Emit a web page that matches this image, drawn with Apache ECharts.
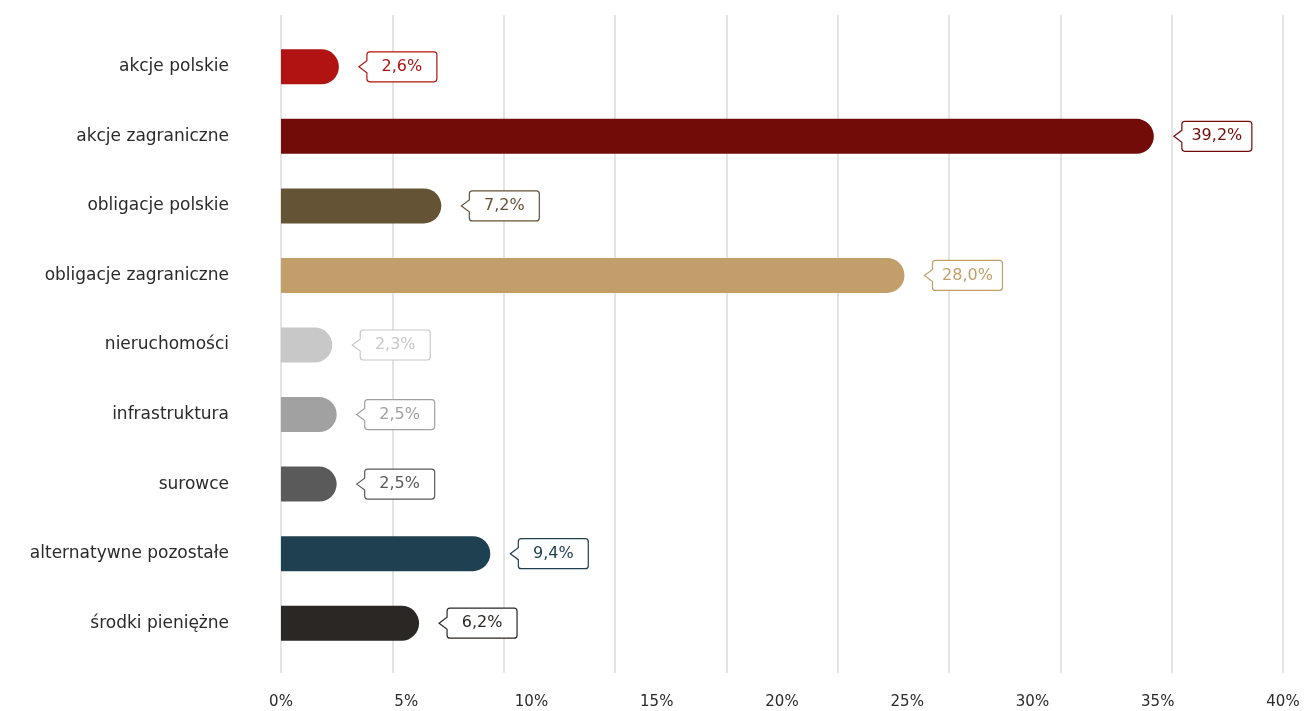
<!DOCTYPE html>
<html>
<head>
<meta charset="utf-8">
<style>
  html, body { margin: 0; padding: 0; background: #fff; }
  #chart { width: 1305px; height: 711px; }
</style>
<script src="https://cdn.jsdelivr.net/npm/echarts@6/dist/echarts.min.js"></script>
</head>
<body>
<div id="chart"></div>
<script>
const categories = [
  'akcje polskie',
  'akcje zagraniczne',
  'obligacje polskie',
  'obligacje zagraniczne',
  'nieruchomości',
  'infrastruktura',
  'surowce',
  'alternatywne pozostałe',
  'środki pieniężne'
]

// udział w portfelu (%)
const shares = [2.6, 39.2, 7.2, 28.0, 2.3, 2.5, 2.5, 9.4, 6.2]

// etykiety osi (0..40 co 5)
const tickValues = [0, 5, 10, 15, 20, 25, 30, 35, 40]

const colors = [
  '#b01312',
  '#720c09',
  '#655335',
  '#c29e6a',
  '#c8c8c8',
  '#a1a1a1',
  '#5a5a5a',
  '#1e4050',
  '#2b2724'
]

const FONT = '"DejaVu Sans", "Open Sans", sans-serif'

function fmt(v) {
  return v.toFixed(1).replace('.', ',') + '%'
}

function calloutPath(x0, y) {
  const bx = x0 + 8
  const w = 70
  const h = 30
  const r = 3
  const t = y - h / 2
  const b = y + h / 2
  const n = 6
  return [
    'M', x0, y,
    'L', bx, y - n,
    'L', bx, t + r,
    'Q', bx, t, bx + r, t,
    'L', bx + w - r, t,
    'Q', bx + w, t, bx + w, t + r,
    'L', bx + w, b - r,
    'Q', bx + w, b, bx + w - r, b,
    'L', bx + r, b,
    'Q', bx, b, bx, b - r,
    'L', bx, y + n,
    'Z'
  ].join(' ')
}

const chart = echarts.init(document.getElementById('chart'))

const option = {
  animation: false,
  grid: [
    { left: 281, right: 22, top: 32, bottom: 53 },
    { left: 281, right: 22, top: 15, bottom: 38 }
  ],
  xAxis: [
    { gridIndex: 0, type: 'value', min: 0, max: 45, show: false },
    {
      gridIndex: 1, type: 'value', min: 0, max: 45, interval: 5,
      axisLine: { show: false }, axisTick: { show: false },
      axisLabel: { show: false },
      splitLine: { show: true, lineStyle: { color: '#e4e4e4', width: 2 } }
    },
    {
      gridIndex: 1, type: 'value', position: 'bottom', min: 0, max: 40, interval: 5,
      axisLine: { show: false }, axisTick: { show: false },
      splitLine: { show: false },
      axisLabel: {
        margin: 22,
        color: '#2a2a2a',
        fontSize: 15,
        fontFamily: FONT,
        formatter: (v) => tickValues.includes(v) ? v + '%' : ''
      }
    }
  ],
  yAxis: [
    {
      gridIndex: 0, type: 'category', inverse: true, data: categories,
      axisLine: { show: false }, axisTick: { show: false },
      axisLabel: { margin: 52, color: '#2a2a2a', fontSize: 17, fontFamily: FONT }
    },
    { gridIndex: 1, type: 'value', show: false }
  ],
  series: [
    {
      type: 'bar',
      xAxisIndex: 0,
      yAxisIndex: 0,
      barWidth: 35,
      data: shares.map((v, i) => ({
        value: v,
        itemStyle: { color: colors[i], borderRadius: [0, 17.5, 17.5, 0] }
      }))
    },
    {
      type: 'custom',
      xAxisIndex: 0,
      yAxisIndex: 0,
      data: shares.map((v, i) => [v, i]),
      renderItem: (params, api) => {
        const i = params.dataIndex
        const p = api.coord([api.value(0), api.value(1)])
        const x0 = p[0] + 20
        const y = p[1]
        return {
          type: 'group',
          children: [
            {
              type: 'path',
              shape: { pathData: calloutPath(x0, y) },
              style: { fill: '#fff', stroke: colors[i], lineWidth: 1.2 }
            },
            {
              type: 'text',
              style: {
                text: fmt(shares[i]),
                x: x0 + 8 + 35,
                y: y,
                align: 'center',
                verticalAlign: 'middle',
                fill: colors[i],
                font: '16px ' + FONT
              }
            }
          ]
        }
      }
    }
  ]
}

chart.setOption(option)
</script>
</body>
</html>
